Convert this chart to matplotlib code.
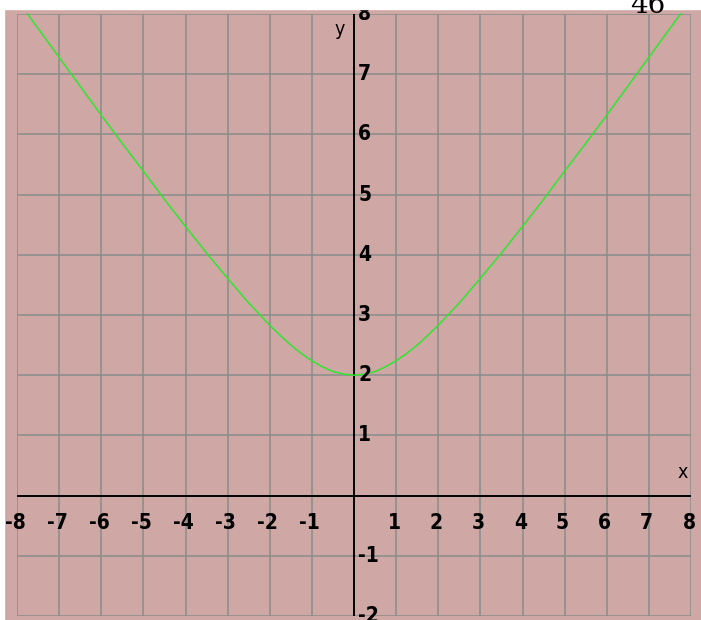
import matplotlib
matplotlib.use("Agg")
import matplotlib.pyplot as plt
from matplotlib.patches import Rectangle
from matplotlib import font_manager

# curve points
xs = [-7.75, -7.5, -7.0, -6.5, -6.0, -5.5, -5.0, -4.5, -4.0, -3.5, -3.0, -2.5,
      -2.0, -1.75, -1.5, -1.25, -1.0, -0.75, -0.5, -0.25, 0.0,
      0.25, 0.5, 0.75, 1.0, 1.25, 1.5, 1.75, 2.0, 2.5, 3.0, 3.5, 4.0, 4.5,
      5.0, 5.5, 6.0, 6.5, 7.0, 7.5, 7.75]
ys = [8.0, 7.76, 7.28, 6.80, 6.32, 5.85, 5.39, 4.92, 4.47, 4.03, 3.61, 3.20,
      2.83, 2.66, 2.50, 2.36, 2.24, 2.14, 2.06, 2.02, 2.00,
      2.02, 2.06, 2.14, 2.24, 2.36, 2.50, 2.66, 2.83, 3.20, 3.61, 4.03, 4.47, 4.92,
      5.39, 5.85, 6.32, 6.80, 7.28, 7.76, 8.0]

xticks = [-8, -7, -6, -5, -4, -3, -2, -1, 1, 2, 3, 4, 5, 6, 7, 8]
yticks = [-2, -1, 1, 2, 3, 4, 5, 6, 7, 8]

pink = "#cfa7a4"
gray = "#8e8e8e"
names = {f.name for f in font_manager.fontManager.ttflist}
font = ["DejaVu Sans Condensed"] if "DejaVu Sans Condensed" in names else ["DejaVu Sans"]

fig = plt.figure(figsize=(7.01, 6.2), dpi=100, facecolor=pink)
ax = fig.add_axes([17/701, 4/620, 674/701, 602/620])
ax.set_facecolor(pink)
ax.set_xlim(-8, 8)
ax.set_ylim(-2, 8)
for s in ax.spines.values():
    s.set_visible(False)
ax.set_xticks([])
ax.set_yticks([])

for gx in range(-8, 9):
    ax.axvline(gx, color=gray, lw=1.2, zorder=1)
for gy in range(-2, 9):
    ax.axhline(gy, color=gray, lw=1.2, zorder=1)

ax.axhline(0, color="black", lw=1.4, zorder=2)
ax.axvline(0, color="black", lw=1.4, zorder=2)

ax.plot(xs, ys, color="#2ee62e", lw=1.1, zorder=3, clip_on=False)

lab = dict(fontsize=15, fontweight="bold", fontstretch="condensed",
           family=font, clip_on=False)
for t in xticks:
    ax.text(t - 0.05, -0.45, str(t), ha="center", va="center", **lab)
for t in yticks:
    ax.text(0.1, t, str(t), ha="left", va="center", **lab)

ax.text(7.8, 0.38, "x", ha="center", va="center", fontsize=14,
        fontstretch="condensed", family=font)
ax.text(-0.35, 7.75, "y", ha="center", va="center", fontsize=14,
        fontstretch="condensed", family=font)

# white strips at the top and left edge
fig.patches.append(Rectangle((0, 611/620), 1, 9/620, transform=fig.transFigure,
                             color="white", zorder=10))
fig.patches.append(Rectangle((0, 0), 4/701, 1, transform=fig.transFigure,
                             color="white", zorder=10))
fig.text(648/701, 1 - 13/620, "46", ha="center", va="baseline", fontsize=20,
         family="DejaVu Serif", zorder=11)

fig.savefig("out.png", dpi=100, facecolor=pink)
